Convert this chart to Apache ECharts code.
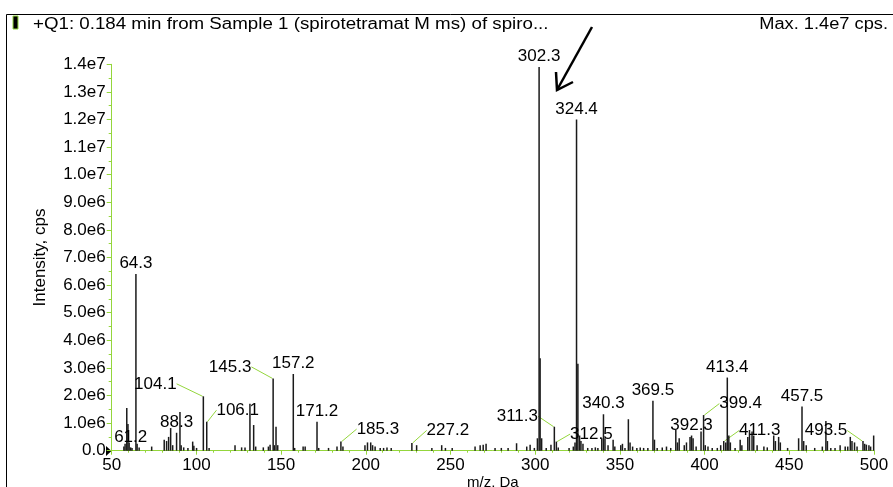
<!DOCTYPE html>
<html>
<head>
<meta charset="utf-8">
<script src="https://cdn.jsdelivr.net/npm/echarts@6/dist/echarts.min.js"></script>
<style>
html,body{margin:0;padding:0;background:#fff;}
#chart{width:893px;height:487px;}
</style>
</head>
<body>
<div id="chart"></div>
<script>
// m/z values (Da)
var mzValues = [57.2,57.9,58.9,59.6,60.3,61.2,62.0,64.3,65.0,66.2,73.6,81.0,82.4,83.6,84.8,86.0,88.3,90.3,91.0,92.5,95.0,97.8,98.5,100.1,104.1,106.1,107.5,122.8,126.7,128.7,131.6,133.8,135.0,139.5,142.5,143.5,145.3,146.0,147.0,148.0,157.2,158.0,163.0,164.2,171.2,172.2,178.0,183.0,185.3,186.5,199.5,201.0,202.9,204.0,205.5,208.5,210.5,212.5,215.0,227.2,230.0,239.0,244.8,247.0,251.0,264.5,267.5,269.3,271.0,276.3,280.0,284.0,289.0,295.0,297.0,299.5,301.3,302.3,302.9,303.8,306.5,309.3,311.3,312.5,313.6,320.0,322.5,323.5,324.4,325.2,326.2,327.0,328.2,331.0,333.5,335.5,337.0,339.3,340.3,341.2,343.0,346.0,347.0,350.5,351.5,353.0,355.0,356.0,357.5,360.0,362.0,364.0,366.5,369.5,370.4,372.0,375.0,377.5,380.0,383.0,384.0,385.0,388.0,389.3,391.4,392.3,393.2,395.0,397.9,399.4,400.4,402.0,404.5,407.5,409.5,411.3,412.5,413.4,414.3,415.2,418.0,421.0,422.0,425.5,426.5,428.0,429.0,431.0,435.0,437.0,440.8,441.8,443.7,444.7,449.0,455.5,457.5,458.5,460.0,465.0,469.5,471.6,472.5,474.5,477.0,480.0,483.0,484.5,486.0,487.0,488.5,490.0,493.5,494.5,495.5,497.0,498.0,499.8];
// intensities (cps)
var intensities = [0.15e6,0.25e6,1.55e6,0.97e6,0.3e6,0.12e6,0.1e6,6.4e6,0.25e6,0.12e6,0.15e6,0.4e6,0.35e6,0.5e6,0.82e6,0.2e6,0.65e6,1.4e6,0.2e6,0.12e6,0.1e6,0.33e6,0.18e6,0.1e6,1.97e6,1.05e6,0.1e6,0.2e6,0.12e6,0.12e6,1.7e6,0.93e6,0.15e6,0.12e6,0.15e6,0.22e6,2.62e6,0.2e6,0.87e6,0.2e6,2.78e6,0.1e6,0.15e6,0.15e6,1.05e6,0.1e6,0.1e6,0.15e6,0.33e6,0.15e6,0.2e6,0.3e6,0.3e6,0.2e6,0.15e6,0.1e6,0.1e6,0.12e6,0.1e6,0.28e6,0.2e6,0.1e6,0.2e6,0.1e6,0.1e6,0.15e6,0.2e6,0.22e6,0.25e6,0.1e6,0.1e6,0.1e6,0.27e6,0.15e6,0.22e6,0.1e6,0.45e6,13.9e6,3.35e6,0.45e6,0.1e6,0.22e6,0.87e6,0.33e6,0.12e6,0.1e6,0.15e6,0.3e6,12.0e6,3.15e6,0.55e6,0.35e6,0.25e6,0.1e6,0.1e6,0.12e6,0.1e6,0.45e6,1.32e6,0.45e6,0.2e6,0.4e6,0.15e6,0.2e6,0.25e6,0.1e6,1.14e6,0.3e6,0.15e6,0.1e6,0.12e6,0.1e6,0.1e6,1.81e6,0.4e6,0.1e6,0.12e6,0.15e6,0.1e6,0.75e6,0.3e6,0.45e6,0.2e6,0.3e6,0.5e6,0.55e6,0.45e6,0.15e6,0.7e6,1.29e6,0.2e6,0.15e6,0.1e6,0.1e6,0.2e6,0.35e6,0.3e6,2.65e6,0.55e6,0.3e6,0.1e6,0.4e6,0.2e6,0.5e6,0.75e6,0.7e6,0.55e6,0.2e6,0.15e6,0.12e6,0.55e6,0.35e6,0.5e6,0.3e6,0.1e6,0.45e6,1.6e6,0.35e6,0.2e6,0.1e6,0.15e6,1.08e6,0.35e6,0.1e6,0.1e6,0.2e6,0.15e6,0.15e6,0.5e6,0.35e6,0.3e6,0.15e6,0.35e6,0.25e6,0.22e6,0.2e6,0.15e6,0.55e6];
// annotated peaks
var peakLabels = ['61.2','64.3','88.3','104.1','106.1','145.3','157.2','171.2','185.3','227.2','302.3','311.3','312.5','324.4','340.3','369.5','392.3','399.4','411.3','413.4','457.5','493.5'];
// axis ticks
var xTicks = [50,100,150,200,250,300,350,400,450,500];
var yTickLabels = ['0.0','1.0e6','2.0e6','3.0e6','4.0e6','5.0e6','6.0e6','7.0e6','8.0e6','9.0e6','1.0e7','1.1e7','1.2e7','1.3e7','1.4e7'];

var titleText = '+Q1: 0.184 min from Sample 1 (spirotetramat M ms) of spiro...';
var maxText = 'Max. 1.4e7 cps.';

// label shifts (px) for labels drawn with a guide line
var labelShift = {
  '104.1':[-48,-2], '106.1':[31,-1], '145.3':[-43,-1], '185.3':[37,-2], '227.2':[36,-2],
  '311.3':[-37,0], '312.5':[35,3], '399.4':[37,-1], '411.3':[36,0], '493.5':[-37,0]
};

var GREEN = '#94d63c';
var FONT = 'Liberation Sans, Arial, sans-serif';

var data = mzValues.map(function(m, i){
  var key = m.toFixed(1);
  var item = {value:[m, intensities[i]]};
  if (peakLabels.indexOf(key) >= 0) {
    item.label = {show:true, formatter: key};
    if (labelShift[key]) item.labelLine = {show:true};
  }
  return item;
});

var chart = echarts.init(document.getElementById('chart'), null, {renderer:'canvas'});
chart.setOption({
  animation:false,
  grid:{left:111.7, right:19, top:64.3, bottom:36.3, containLabel:false, outerBoundsMode:'none'},
  xAxis:{
    type:'value', min:xTicks[0], max:xTicks[xTicks.length-1], interval:50,
    name:'m/z, Da', nameLocation:'middle', nameGap:25, nameMoveOverlap:false,
    nameTextStyle:{color:'#000', fontSize:15, fontFamily:FONT},
    axisLine:{show:true, lineStyle:{color:GREEN, width:1}},
    axisTick:{show:true, length:4, lineStyle:{color:GREEN}},
    minorTick:{show:true, splitNumber:5, length:2, lineStyle:{color:GREEN}},
    splitLine:{show:false},
    axisLabel:{color:'#000', fontSize:17, fontFamily:FONT, margin:6}
  },
  yAxis:{
    type:'value', min:0, max:1.4e7, interval:1e6,
    name:'Intensity, cps', nameLocation:'middle', nameGap:63, nameRotate:90, nameMoveOverlap:false,
    nameTextStyle:{color:'#000', fontSize:17, fontFamily:FONT},
    axisLine:{show:true, lineStyle:{color:GREEN, width:1}},
    axisTick:{show:true, length:5, lineStyle:{color:GREEN}},
    minorTick:{show:true, splitNumber:2, length:3, lineStyle:{color:GREEN}},
    splitLine:{show:false},
    axisLabel:{color:'#000', fontSize:17, fontFamily:FONT, margin:6,
      formatter:function(v){ return yTickLabels[Math.round(v/1e6)]; }}
  },
  series:[{
    type:'bar',
    data:data,
    barWidth:1.5,
    itemStyle:{color:'#1a1a1a'},
    label:{show:false, position:'top', distance:2, color:'#000', fontSize:17, fontFamily:FONT},
    labelLine:{show:false, lineStyle:{color:GREEN, width:1}},
    labelLayout:function(p){
      var key = mzValues[p.dataIndex].toFixed(1);
      var s = labelShift[key];
      if (s) return {dx:s[0], dy:s[1]};
      return {};
    },
    emphasis:{disabled:true}
  }],
  graphic:[
    {type:'rect', shape:{x:6.5, y:14.5, width:900, height:500}, style:{fill:'none', stroke:'#000', lineWidth:1}, silent:true},
    {type:'rect', shape:{x:13, y:16, width:5, height:13}, style:{fill:'#000', stroke:GREEN, lineWidth:1}},
    {type:'text', x:33, y:25, scaleX:1.17, style:{text:titleText, x:0, y:0, align:'left', verticalAlign:'middle', fontSize:16, fontFamily:FONT, fill:'#000'}},
    {type:'text', x:888, y:25, scaleX:1.14, style:{text:maxText, x:0, y:0, align:'right', verticalAlign:'middle', fontSize:16, fontFamily:FONT, fill:'#000'}},
    {type:'polyline', shape:{points:[[592,27],[557,90]]}, style:{stroke:'#000', lineWidth:2.5, fill:'none'}},
    {type:'polyline', shape:{points:[[556,72],[557,90],[573,82]]}, style:{stroke:'#000', lineWidth:2.5, fill:'none'}},
    {type:'polygon', shape:{points:[[106,446],[111.5,451],[106,456]]}, style:{fill:'#000'}}
  ]
});
</script>
</body>
</html>
